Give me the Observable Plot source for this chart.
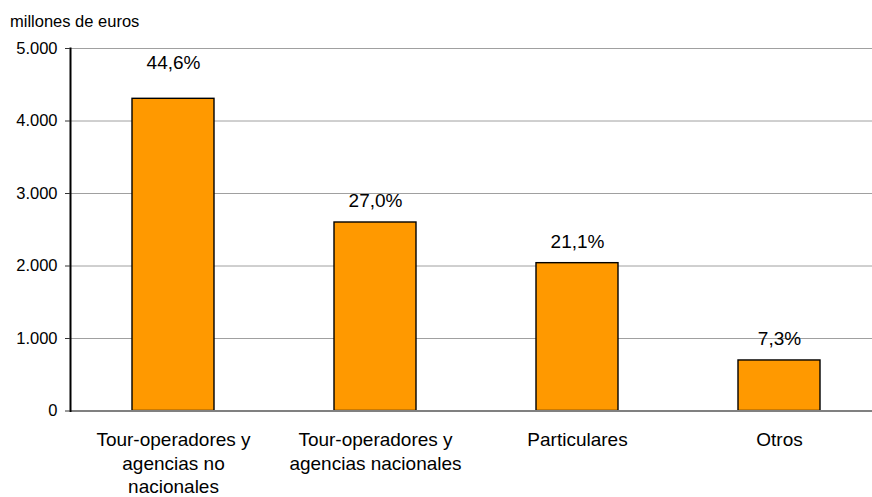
<!DOCTYPE html>
<html><head><meta charset="utf-8">
<script src="https://cdn.jsdelivr.net/npm/d3@7"></script>
<script src="https://cdn.jsdelivr.net/npm/@observablehq/plot@0.6"></script>
<style>
body{margin:0;background:#fff;font-family:"Liberation Sans",Arial,sans-serif;}
#wrap{position:relative;width:872px;height:497px;}
#title{position:absolute;left:10px;top:13px;font-size:16.5px;line-height:16.5px;color:#000;white-space:nowrap;}
#chart{position:absolute;left:0;top:0;}
</style></head><body>
<div id="wrap"><div id="chart"></div><div id="title">millones de euros</div></div>
<script>
const categories = ["Tour-operadores y agencias no nacionales", "Tour-operadores y agencias nacionales", "Particulares", "Otros"];
const tickLabels = ["Tour-operadores y\nagencias no\nnacionales", "Tour-operadores y\nagencias nacionales", "Particulares", "Otros"];
const values = [4306, 2600, 2039, 697];
const shares = [44.6, 27.0, 21.1, 7.3];
const yTicks = [0, 1000, 2000, 3000, 4000, 5000];

const data = categories.map((c, i) => ({category: c, value: values[i], share: shares[i], label: tickLabels[i], idx: i}));
const es = d3.formatLocale({decimal: ",", thousands: ".", grouping: [3], currency: ["", " €"]});
const fmtInt = es.format(",d");
const fmtPct = es.format(".1f");
const font = '"Liberation Sans", Arial, sans-serif';

const chart = Plot.plot({
  width: 872, height: 497,
  marginLeft: 70, marginRight: 0, marginTop: 48, marginBottom: 86.5,
  style: {fontFamily: font, background: "transparent", color: "#000"},
  x: {domain: categories, range: [70, 881], paddingInner: 0.595, paddingOuter: 0.2975, align: 0.5},
  y: {domain: [0, 5000]},
  marks: [
    Plot.ruleY(yTicks.filter(d => d > 0), {stroke: "#a0a0a0", strokeWidth: 1}),
    Plot.barY(data, {x: "category", y: "value", fill: "#FF9900", stroke: "#000", strokeWidth: 1.4}),
    Plot.ruleY([0], {stroke: "#808080", strokeWidth: 2}),
    Plot.frame({anchor: "left", stroke: "#000", strokeWidth: 2}),
    Plot.axisY({ticks: yTicks, tickFormat: fmtInt, tickSize: 5, tickPadding: 8, fontSize: 16.5, label: null, stroke: "#333"}),
    Plot.axisX({tickSize: 0, tickPadding: 18, fontSize: 19, lineHeight: 1.25, label: null,
      tickFormat: d => tickLabels[categories.indexOf(d)]}),
    Plot.text(data.filter(d => d.idx === 0), {x: "category", y: "value", text: d => fmtPct(d.share) + "%", fontSize: 19, lineAnchor: "middle", dy: -36, fill: "#000"}),
    Plot.text(data.filter(d => d.idx > 0), {x: "category", y: "value", text: d => fmtPct(d.share) + "%", fontSize: 19, lineAnchor: "middle", dy: -21.6, fill: "#000"})
  ]
});
document.getElementById("chart").appendChild(chart);
</script>
</body></html>
